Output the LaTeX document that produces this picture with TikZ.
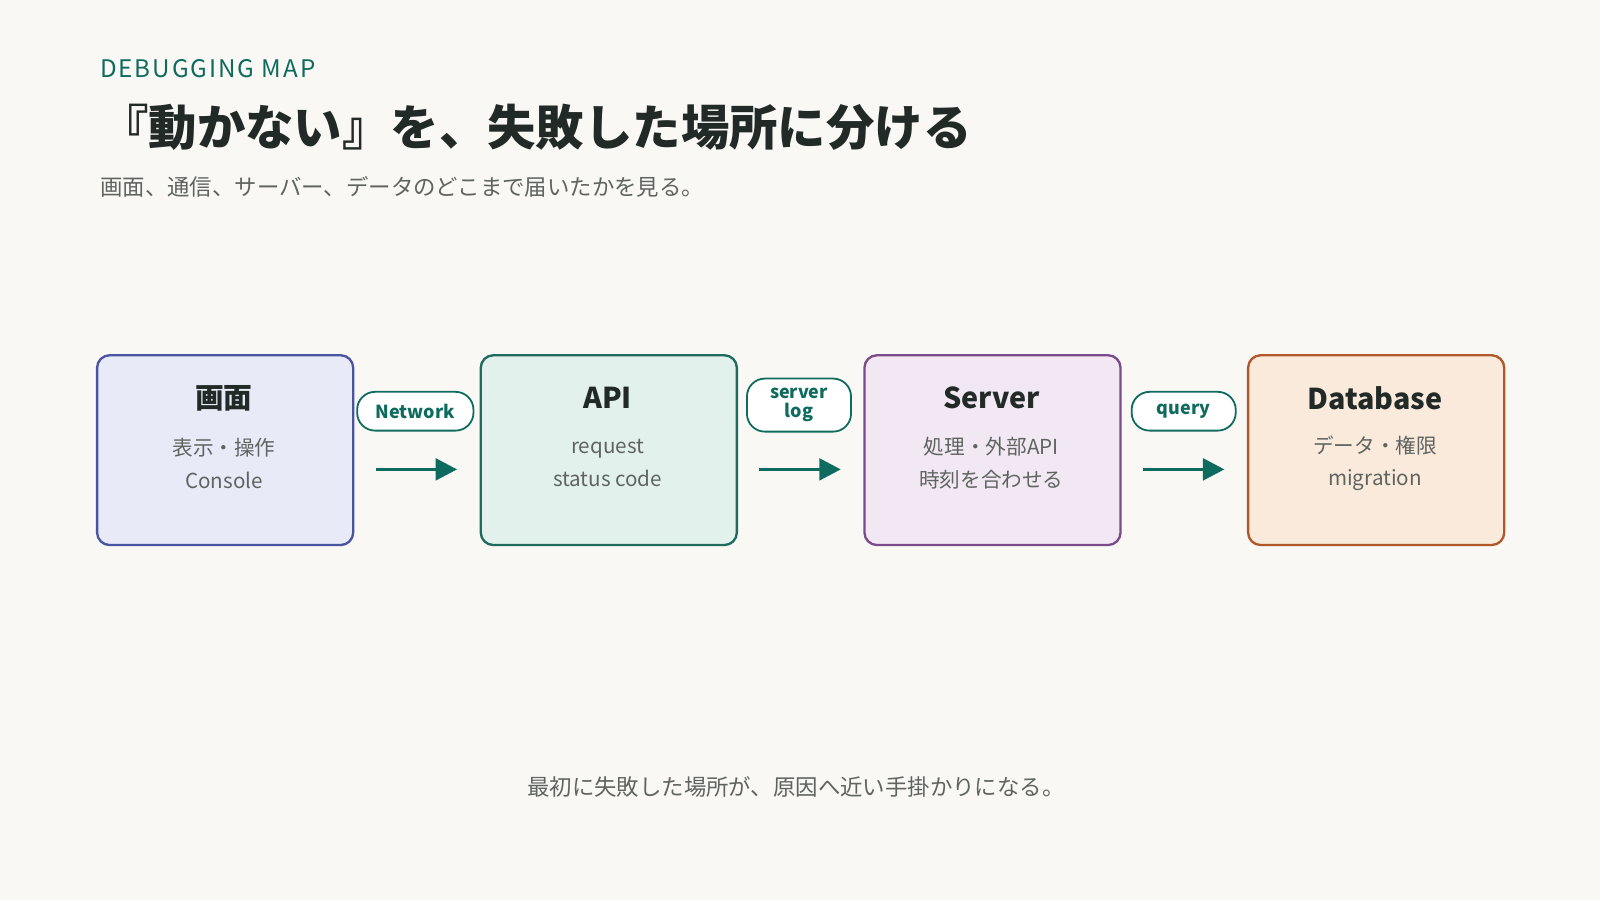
\documentclass[tikz,border=0pt]{standalone}
\usepackage{fontspec}
\setmainfont{Noto Sans CJK JP}
\usetikzlibrary{arrows.meta}
\definecolor{bg}{HTML}{F9F8F5}
\definecolor{teal}{HTML}{0F6B5E}
\definecolor{ink}{HTML}{222A27}
\definecolor{gr}{HTML}{5F6461}
\definecolor{bB}{HTML}{4A55A2}\definecolor{fB}{HTML}{E8EAF7}
\definecolor{bT}{HTML}{1F6B5E}\definecolor{fT}{HTML}{E3F1EC}
\definecolor{bP}{HTML}{7A4A8A}\definecolor{fP}{HTML}{F1E8F3}
\definecolor{bO}{HTML}{B0582A}\definecolor{fO}{HTML}{F9EADC}
\tikzset{
 box/.style={draw,line width=1.3pt,rounded corners=7pt,minimum width=251*0.02cm,minimum height=186*0.02cm,anchor=north west},
 ttl/.style={font=\fontsize{16}{18}\selectfont\bfseries,text=ink},
 sub/.style={font=\fontsize{11.5}{18.2}\selectfont,text=gr,align=center},
 pill/.style={draw=teal,fill=white,line width=1pt,rounded corners=10pt,font=\fontsize{10}{10.5}\selectfont\bfseries,text=teal,align=center,inner sep=0pt},
 arr/.style={draw=teal,line width=2pt,-{Triangle[length=12pt,width=12pt]},shorten <=23*0.02cm,shorten >=22*0.02cm}
}
\begin{document}
\begin{tikzpicture}[x=0.02cm,y=-0.02cm]
\fill[bg] (0,0) rectangle (1568,882);
\node[anchor=west,text=teal,font=\fontsize{13.5}{14}\selectfont\addfontfeature{LetterSpace=8}] (k) at (92,67) {DEBUGGING MAP};
\node[anchor=west,text=ink,font=\fontsize{27}{30}\selectfont\bfseries] (t) at (92,125) {『動かない』を、失敗した場所に分ける};
\node[anchor=west,text=gr,font=\fontsize{12.5}{14}\selectfont] (s) at (92,183) {画面、通信、サーバー、データのどこまで届いたかを見る。};
\foreach \n/\x/\b/\f/\T/\A/\B in {a/94/bB/fB/画面/表示・操作/Console, b/470/bT/fT/API/request/status code, c/846/bP/fP/Server/処理・外部API/時刻を合わせる, d/1222/bO/fO/Database/データ・権限/migration}{
 \node[box,draw=\b,fill=\f] (\n) at (\x,347) {};
 \node[ttl] (\n t) at (\x+125.5,390) {\T};
 \node[sub] (\n s) at (\x+125.5,454) {\A\\\B};
}
\coordinate (ae) at (345,460); \coordinate (bw) at (470,460);
\coordinate (be) at (721,460); \coordinate (cw) at (846,460);
\coordinate (ce) at (1097,460); \coordinate (dw) at (1222,460);
\draw[arr] (ae) -- (bw);
\draw[arr] (be) -- (cw);
\draw[arr] (ce) -- (dw);
\node[pill,minimum width=114*0.02cm,minimum height=38*0.02cm] (p1) at (407,403) {Network};
\node[pill,minimum width=102*0.02cm,minimum height=52*0.02cm] (p2) at (783,397) {server\\log};
\node[pill,minimum width=102*0.02cm,minimum height=38*0.02cm] (p3) at (1160,403) {query};
\node[text=gr,font=\fontsize{12.5}{14}\selectfont] (f) at (780,771) {最初に失敗した場所が、原因へ近い手掛かりになる。};
\end{tikzpicture}
\end{document}
